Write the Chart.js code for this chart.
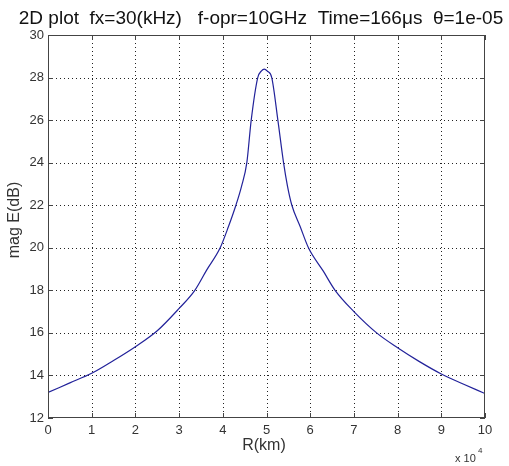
<!DOCTYPE html>
<html lang="en">
<head>
<meta charset="UTF-8">
<title>mag E vs R</title>
<script src="https://cdn.jsdelivr.net/npm/chart.js"></script>
<style>
  html, body { margin: 0; padding: 0; background: #fff; }
  #wrap { width: 509px; height: 466px; }
</style>
</head>
<body>
<div id="wrap"><canvas id="plot" width="509" height="466"></canvas></div>
<script>
// R in units of 1e4 km, magnitude in dB
const rValues = [0, 0.5, 1, 1.5, 2, 2.5, 3, 3.36, 3.63, 3.94, 4.13, 4.3, 4.43, 4.55, 4.65, 4.8, 4.88, 4.95,
                 5.02, 5.12, 5.26, 5.39, 5.48, 5.58, 5.77, 5.96, 6.3, 6.57, 7, 7.52, 8, 8.5, 9, 9.5, 10];
const magE = [13.2, 13.65, 14.1, 14.7, 15.35, 16.1, 17.15, 18.0, 18.95, 20.0, 21.0, 22.0, 22.9, 24.0, 26.0, 28.0, 28.3, 28.4,
              28.3, 28.0, 26.0, 24.0, 22.9, 22.0, 21.0, 20.0, 18.9, 18.0, 17.0, 16.0, 15.3, 14.65, 14.07, 13.6, 13.15];
const xTicks = [0, 1, 2, 3, 4, 5, 6, 7, 8, 9, 10];
const yTicks = [12, 14, 16, 18, 20, 22, 24, 26, 28, 30];

const titleText = '2D plot  fx=30(kHz)   f-opr=10GHz  Time=166\u03BCs  \u03B8=1e-05';
const FONT = '"Liberation Sans", Arial, sans-serif';

// dotted grid under the curve
const dottedGrid = {
  id: 'dottedGrid',
  beforeDatasetsDraw(chart) {
    const { ctx, chartArea: a, scales } = chart;
    ctx.save();
    ctx.strokeStyle = '#222';
    ctx.lineWidth = 1;
    ctx.setLineDash([1, 3]);
    ctx.beginPath();
    xTicks.slice(1, -1).forEach(v => {
      const px = Math.round(scales.x.getPixelForValue(v)) + 0.5;
      ctx.moveTo(px, a.top); ctx.lineTo(px, a.bottom);
    });
    yTicks.slice(1, -1).forEach(v => {
      const py = Math.round(scales.y.getPixelForValue(v)) + 0.5;
      ctx.moveTo(a.left, py); ctx.lineTo(a.right, py);
    });
    ctx.stroke();
    ctx.restore();
  }
};

// MATLAB-style box, inner ticks and labels
const matlabAxes = {
  id: 'matlabAxes',
  afterDraw(chart) {
    const { ctx, chartArea: a, scales } = chart;
    ctx.save();
    ctx.strokeStyle = '#444';
    ctx.lineWidth = 1;
    ctx.strokeRect(a.left + 0.5, a.top + 0.5, a.right - a.left - 1, a.bottom - a.top - 1);
    ctx.beginPath();
    xTicks.forEach(v => {
      const px = Math.round(scales.x.getPixelForValue(v)) + 0.5;
      ctx.moveTo(px, a.bottom); ctx.lineTo(px, a.bottom - 5);
      ctx.moveTo(px, a.top); ctx.lineTo(px, a.top + 5);
    });
    yTicks.forEach(v => {
      const py = Math.round(scales.y.getPixelForValue(v)) + 0.5;
      ctx.moveTo(a.left, py); ctx.lineTo(a.left + 5, py);
      ctx.moveTo(a.right, py); ctx.lineTo(a.right - 5, py);
    });
    ctx.stroke();

    ctx.fillStyle = '#111';
    ctx.textAlign = 'center';
    ctx.textBaseline = 'alphabetic';
    ctx.font = '19px ' + FONT;
    ctx.fillText(titleText, 261, 24);

    ctx.fillStyle = '#333';
    ctx.textBaseline = 'middle';
    ctx.font = '16px ' + FONT;
    ctx.fillText('R(km)', 264, 446);

    ctx.save();
    ctx.translate(15, 220);
    ctx.rotate(-Math.PI / 2);
    ctx.fillText('mag E(dB)', 0, 0);
    ctx.restore();

    ctx.font = '11px ' + FONT;
    ctx.textAlign = 'left';
    ctx.fillText('x 10', 455, 459);
    ctx.font = '8px ' + FONT;
    ctx.fillText('4', 478, 451);
    ctx.restore();
  }
};

new Chart(document.getElementById('plot'), {
  type: 'line',
  data: {
    datasets: [{
      data: rValues.map((r, i) => ({ x: r, y: magE[i] })),
      borderColor: '#22229a',
      borderWidth: 1.2,
      pointRadius: 0,
      cubicInterpolationMode: 'monotone',
      fill: false
    }]
  },
  options: {
    responsive: false,
    animation: false,
    events: [],
    layout: { padding: { left: 0, right: 24, top: 35, bottom: 0 } },
    plugins: { legend: { display: false }, title: { display: false }, tooltip: { enabled: false } },
    scales: {
      x: {
        type: 'linear', min: 0, max: 10,
        afterFit: s => { s.height = 48; },
        afterBuildTicks: s => { s.ticks = xTicks.map(v => ({ value: v })); },
        grid: { display: false, drawTicks: false },
        border: { display: false },
        ticks: { color: '#333', font: { family: FONT, size: 13 }, padding: 5, maxRotation: 0 }
      },
      y: {
        type: 'linear', min: 12, max: 30,
        afterFit: s => { s.width = 48; },
        afterBuildTicks: s => { s.ticks = yTicks.map(v => ({ value: v })); },
        grid: { display: false, drawTicks: false },
        border: { display: false },
        ticks: { color: '#333', font: { family: FONT, size: 13 }, padding: 4 }
      }
    }
  },
  plugins: [dottedGrid, matlabAxes]
});
</script>
</body>
</html>
